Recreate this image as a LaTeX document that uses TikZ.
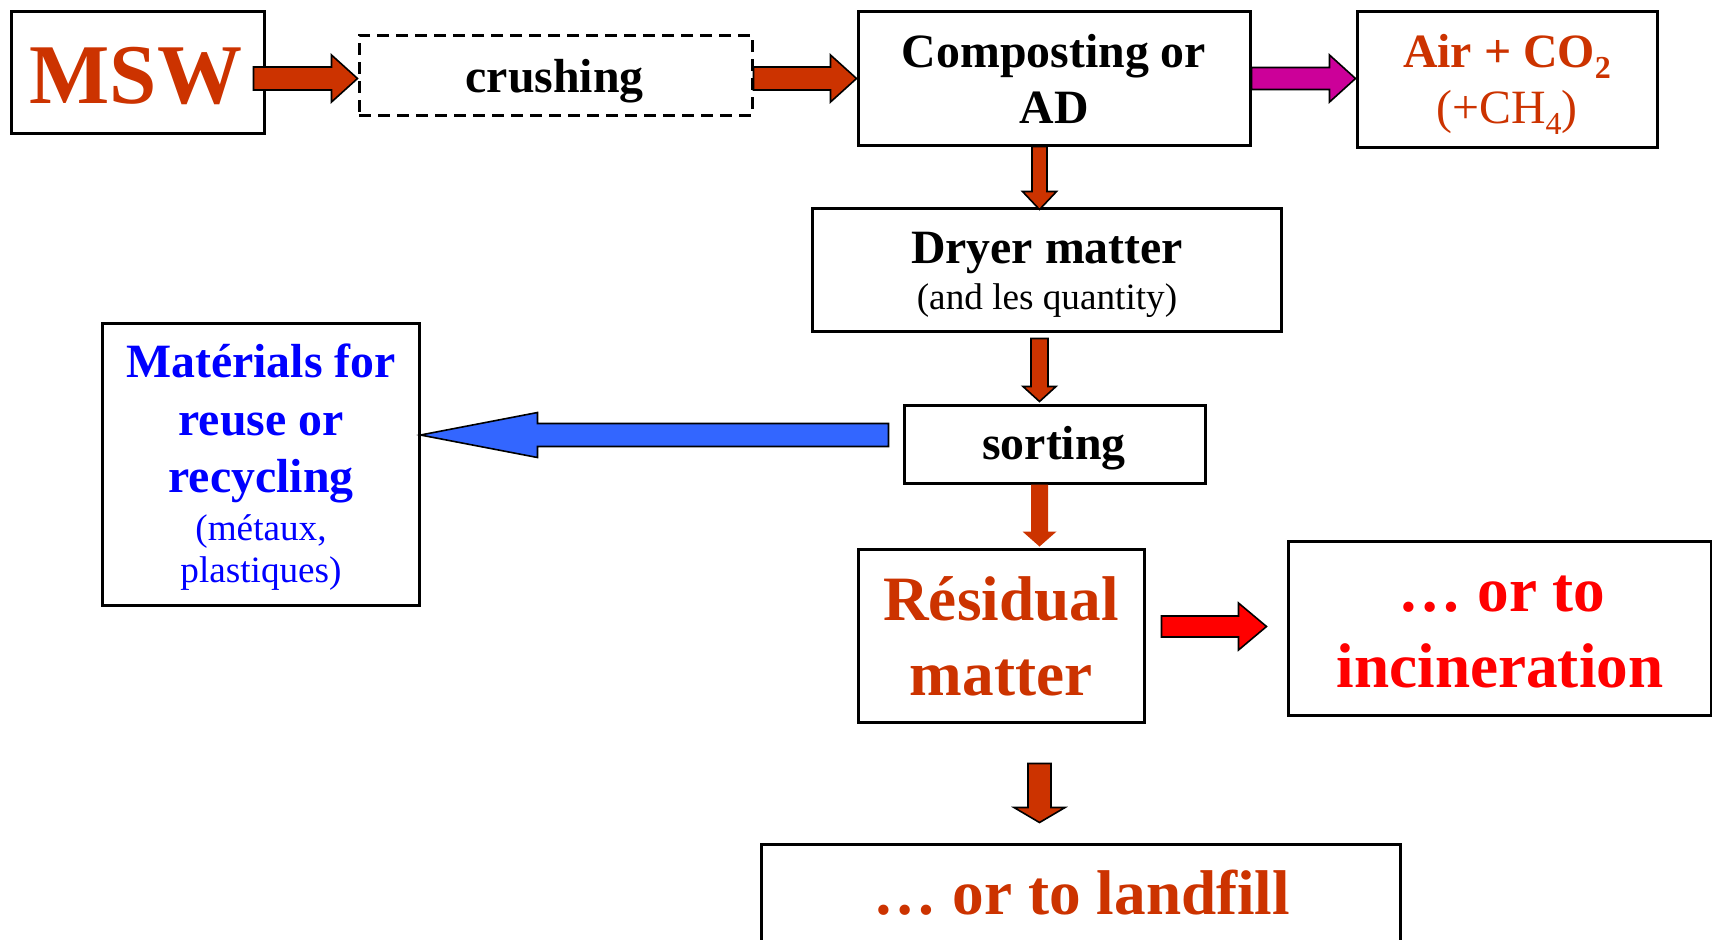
\documentclass[tikz,border=0pt]{standalone}
\usepackage{fontspec}
\setmainfont{Liberation Serif}
\usetikzlibrary{calc}

\definecolor{brick}{HTML}{CC3300}
\definecolor{plum}{HTML}{CC0099}
\definecolor{flowblue}{HTML}{3366FF}
\definecolor{textblue}{HTML}{0000FF}
\definecolor{hotred}{HTML}{FF0000}

% Block arrows: #1 style, #2 tail point, #3 tip point,
% #4 shaft half-width, #5 head half-width, #6 head length
\newcommand\arrR[6]{\path[#1] let \p1=#2, \p2=#3 in
  (\x1,\y1-#4) -- (\x2-#6,\y1-#4) -- (\x2-#6,\y1-#5) -- (\x2,\y1)
  -- (\x2-#6,\y1+#5) -- (\x2-#6,\y1+#4) -- (\x1,\y1+#4) -- cycle;}
\newcommand\arrL[6]{\path[#1] let \p1=#2, \p2=#3 in
  (\x1,\y1-#4) -- (\x2+#6,\y1-#4) -- (\x2+#6,\y1-#5) -- (\x2,\y1)
  -- (\x2+#6,\y1+#5) -- (\x2+#6,\y1+#4) -- (\x1,\y1+#4) -- cycle;}
\newcommand\arrD[6]{\path[#1] let \p1=#2, \p2=#3 in
  (\x1-#4,\y1) -- (\x1-#4,\y2+#6) -- (\x1-#5,\y2+#6) -- (\x1,\y2)
  -- (\x1+#5,\y2+#6) -- (\x1+#4,\y2+#6) -- (\x1+#4,\y1) -- cycle;}

\newcommand\fHuge{\fontsize{42.5}{50}\selectfont\bfseries}
\newcommand\fBig{\fontsize{31.6}{37}\selectfont\bfseries}
\newcommand\fMain{\fontsize{23.9}{28}\selectfont\bfseries}
\newcommand\fNote{\fontsize{18.6}{22}\selectfont}
\newcommand\fMainReg{\fontsize{23.9}{28}\selectfont}
% chemical index, set low as in the formulas
\newcommand\chemsub[1]{\raisebox{-5.5pt}{\fontsize{16}{18}\selectfont #1}}

\begin{document}
\begin{tikzpicture}[x=0.5pt,y=-0.5pt,
  box/.style={draw=black, line width=1.5pt, fill=white, inner sep=0pt, rectangle},
  dashbox/.style={box, dash pattern=on 6pt off 3.5pt},
  outlined/.style={draw=black, line width=0.8pt, line join=miter},
  lbl/.style={anchor=base, inner sep=0pt}]

\clip (0,0) rectangle (1712,939);
\fill[white] (0,0) rectangle (1712,939);

% guide lines for the arrows
\coordinate (row1) at (0,78.5);
\coordinate (col) at (1039.5,0);
\coordinate (row2) at (0,435);
\coordinate (row3) at (0,626.5);

% boxes
\node[box, minimum width=126.5pt, minimum height=61pt] (msw) at (137.5,72) {};
\node[dashbox, minimum width=196.5pt, minimum height=40pt] (crush) at (555.5,75) {};
\node[box, minimum width=196pt, minimum height=67pt] (comp) at (1054,78) {};
\node[box, minimum width=150pt, minimum height=68pt] (air) at (1507,79) {};
\node[box, minimum width=234.5pt, minimum height=61.5pt] (dryer) at (1046.5,269.5) {};
\node[box, minimum width=150.5pt, minimum height=39pt] (sort) at (1054.5,444) {};
\node[box, minimum width=158.5pt, minimum height=141pt] (mat) at (260.5,464) {};
\node[box, minimum width=143pt, minimum height=86.5pt] (resid) at (1001,635.5) {};
\node[box, minimum width=211.5pt, minimum height=87pt] (incin) at (1499.5,628) {};
\node[box, minimum width=319.5pt, minimum height=78pt] (land) at (1080.5,922) {};

% texts
\node[lbl, font=\fHuge, text=brick] (mswT) at (136,103) {MSW};
\node[lbl, font=\fMain] (crushT) at (554.6,92) {crushing};
\node[lbl, font=\fMain] (comp1) at (1054,67) {Composting or};
\node[lbl, font=\fMain] (comp2) at (1054,123) {AD};
\node[lbl, font=\fMain, text=brick] (air1) at (1507,67) {Air + CO\chemsub{2}};
\node[lbl, font=\fMainReg, text=brick] (air2) at (1507,123) {(+CH\chemsub{4})};
\node[lbl, font=\fMain] (dry1) at (1047,263) {Dryer matter};
\node[lbl, font=\fNote] (dry2) at (1047,309) {(and les quantity)};
\node[lbl, font=\fMain] (sortT) at (1054,459) {sorting};
\node[lbl, font=\fMain, text=textblue] (mat1) at (261,377) {Matérials for};
\node[lbl, font=\fMain, text=textblue] (mat2) at (261,435) {reuse or};
\node[lbl, font=\fMain, text=textblue] (mat3) at (261,492) {recycling};
\node[lbl, font=\fNote, text=textblue] (mat4) at (261,540) {(métaux,};
\node[lbl, font=\fNote, text=textblue] (mat5) at (261,582) {plastiques)};
\node[lbl, font=\fBig, text=brick] (res1) at (1001,620) {Résidual};
\node[lbl, font=\fBig, text=brick] (res2) at (1001,695) {matter};
\node[lbl, font=\fBig, text=hotred] (inc1) at (1502,611) {… or to};
\node[lbl, font=\fBig, text=hotred] (inc2) at (1500,687) {incineration};
\node[lbl, font=\fBig, text=brick] (landT) at (1082,914) {… or to landfill};

% arrows
\arrR{outlined, fill=brick}{($(msw.east |- row1)+(-12,0)$)}{(crush.west |- row1)}{5.75pt}{11.75pt}{13pt}
\arrR{outlined, fill=brick}{(crush.east |- row1)}{(comp.west |- row1)}{5.75pt}{11.75pt}{13pt}
\arrR{outlined, fill=plum}{(comp.east |- row1)}{(air.west |- row1)}{5.5pt}{11.75pt}{13pt}
\arrD{outlined, fill=brick}{(col |- comp.south)}{($(col |- dryer.north)+(0,3)$)}{3.75pt}{8.5pt}{9pt}
\arrD{outlined, fill=brick}{($(col |- dryer.south)+(0,6)$)}{($(col |- sort.north)+(0,-2)$)}{4.25pt}{8.25pt}{7.5pt}
\arrD{fill=brick}{(col |- sort.south)}{($(col |- resid.north)+(0,-1)$)}{4.25pt}{8.5pt}{7.5pt}
\arrL{outlined, fill=flowblue}{($(sort.west |- row2)+(-14,0)$)}{(mat.east |- row2)}{5.75pt}{11.25pt}{58.5pt}
\arrR{outlined, fill=hotred}{($(resid.east |- row3)+(16,0)$)}{($(incin.west |- row3)+(-20,0)$)}{5.25pt}{11.75pt}{14pt}
\arrD{outlined, fill=brick}{($(col |- resid.south)+(0,40)$)}{($(col |- land.north)+(0,-20)$)}{5.75pt}{12.75pt}{7.5pt}

\end{tikzpicture}
\end{document}
